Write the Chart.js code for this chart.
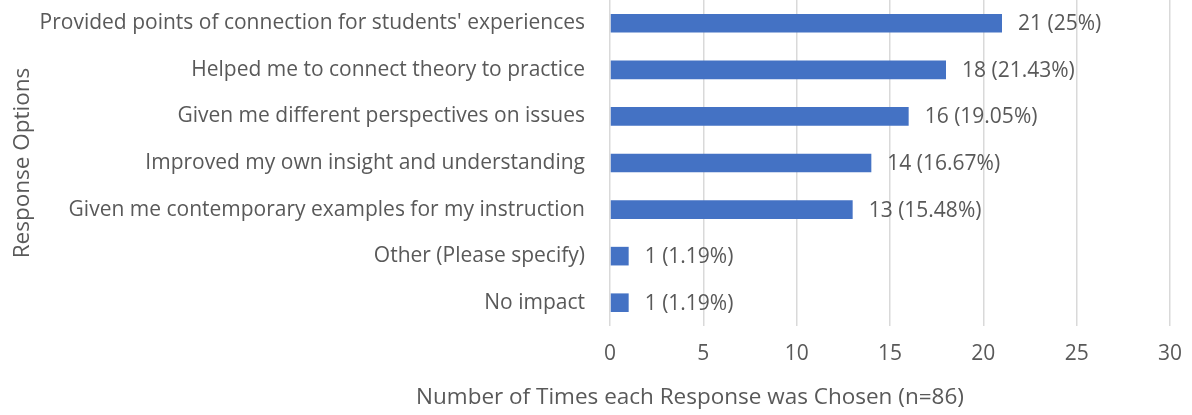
<!DOCTYPE html>
<html>
<head>
<meta charset="utf-8">
<script src="https://cdn.jsdelivr.net/npm/chart.js@4/dist/chart.umd.min.js"></script>
<style>
    html, body { margin: 0; padding: 0; background: #ffffff; }
    #wrap { width: 1192px; height: 415px; position: relative; }
</style>
</head>
<body>
<div id="wrap"><canvas id="chart"></canvas></div>
<script>
// Chart data
const categories = [
    'Provided points of connection for students\' experiences',
    'Helped me to connect theory to practice',
    'Given me different perspectives on issues',
    'Improved my own insight and understanding',
    'Given me contemporary examples for my instruction',
    'Other (Please specify)',
    'No impact'
];
const counts = [21, 18, 16, 14, 13, 1, 1];
const percents = ['25%', '21.43%', '19.05%', '16.67%', '15.48%', '1.19%', '1.19%'];
const xTicks = [0, 5, 10, 15, 20, 25, 30];

const textColor = '#595959';
const fontFamily = '"Open Sans", sans-serif';
const fontSize = 21;
const titleSize = 22.5;

// Value labels next to each bar
const barLabels = {
    id: 'barLabels',
    afterDatasetsDraw(chart) {
        const ctx = chart.ctx;
        const meta = chart.getDatasetMeta(0);
        ctx.save();
        ctx.font = `${fontSize}px ${fontFamily}`;
        ctx.fillStyle = textColor;
        ctx.textBaseline = 'middle';
        ctx.textAlign = 'left';
        meta.data.forEach((bar, i) => {
            ctx.fillText(`${counts[i]} (${percents[i]})`, bar.x + 16, bar.y + 1);
        });
        ctx.restore();
    }
};

// X axis title, placed like the original
const xTitle = {
    id: 'xTitle',
    afterDraw(chart) {
        const ctx = chart.ctx;
        ctx.save();
        ctx.font = `${titleSize}px ${fontFamily}`;
        ctx.fillStyle = textColor;
        ctx.textAlign = 'center';
        ctx.textBaseline = 'middle';
        ctx.fillText('Number of Times each Response was Chosen (n=86)', 690, 398);
        ctx.restore();
    }
};

const ctx = document.getElementById('chart').getContext('2d');
new Chart(ctx, {
    type: 'bar',
    data: {
        labels: categories,
        datasets: [{
            data: counts,
            backgroundColor: '#4472C4',
            borderWidth: 0,
            categoryPercentage: 1,
            barPercentage: 0.4
        }]
    },
    options: {
        indexAxis: 'y',
        responsive: true,
        maintainAspectRatio: false,
        animation: false,
        layout: { padding: { top: 0, right: 22, bottom: 0, left: 0 } },
        plugins: {
            legend: { display: false },
            tooltip: { enabled: false }
        },
        scales: {
            x: {
                min: 0,
                max: 30,
                afterBuildTicks: (scale) => {
                    scale.ticks = xTicks.map(v => ({ value: v }));
                },
                afterFit: (scale) => {
                    scale.height = 89;
                    scale.paddingLeft = 0;
                    scale.paddingRight = 0;
                },
                grid: {
                    color: '#d9d9d9',
                    lineWidth: 1.5,
                    drawTicks: false
                },
                border: { display: false },
                ticks: {
                    color: textColor,
                    font: { family: fontFamily, size: fontSize },
                    padding: 15
                }
            },
            y: {
                afterFit: (scale) => {
                    scale.width = 610;
                    scale.paddingTop = 0;
                    scale.paddingBottom = 0;
                },
                grid: { display: false },
                border: { display: false },
                ticks: {
                    color: textColor,
                    font: { family: fontFamily, size: fontSize },
                    padding: 17
                },
                title: {
                    display: true,
                    text: 'Response Options',
                    color: textColor,
                    font: { family: fontFamily, size: titleSize },
                    padding: { top: 9, bottom: 0 }
                }
            }
        }
    },
    plugins: [barLabels, xTitle]
});
</script>
</body>
</html>
